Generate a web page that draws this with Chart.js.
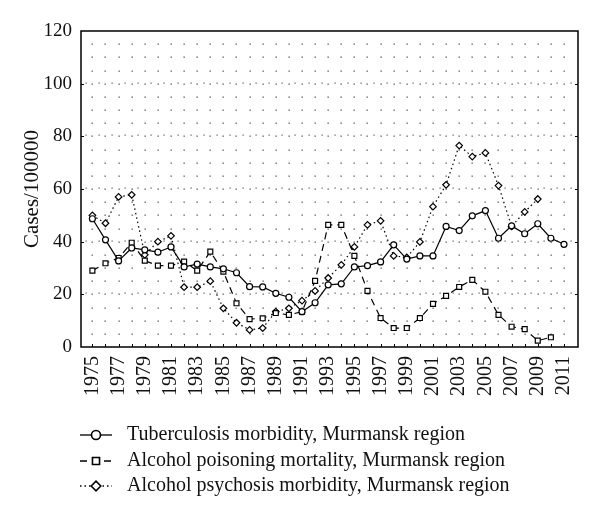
<!DOCTYPE html>
<html>
<head>
<meta charset="utf-8">
<script src="https://cdn.jsdelivr.net/npm/chart.js@4"></script>
<style>
  html, body { margin: 0; padding: 0; background: #fff; }
  #wrap { width: 600px; height: 521px; }
</style>
</head>
<body>
<div id="wrap"><canvas id="chart" width="600" height="521"></canvas></div>
<script>
const years = [1975,1976,1977,1978,1979,1980,1981,1982,1983,1984,1985,1986,1987,1988,1989,1990,1991,1992,1993,1994,1995,1996,1997,1998,1999,2000,2001,2002,2003,2004,2005,2006,2007,2008,2009,2010,2011];
const tuberculosis = [48.7,40.7,32.7,37.6,36.9,36,38,30.4,31.5,30.4,29.7,28.2,22.9,22.8,20.4,18.9,13.4,16.8,23.6,24,30.4,30.9,32.3,38.8,33.4,34.6,34.6,45.8,44.2,49.8,51.8,41.3,46,43,46.8,41.3,39];
const poisoning = [29,31.8,33.8,39.6,32.8,30.9,30.9,32.4,29,36.2,28.6,16.6,10.6,10.9,12.9,12.2,13.4,25.1,46.4,46.4,34.6,21.3,11,7.2,7.2,11,16.4,19.4,22.8,25.5,21,12.2,7.7,6.8,2.4,3.7,null];
const psychosis = [50,47,57,57.8,35,40,42.2,22.7,22.7,25,14.7,9.2,6.5,7.2,13.4,14.7,17.6,21.3,26.2,31.2,38,46.4,47.9,34.6,34,39.9,53.3,61.6,76.5,72.3,73.7,61.3,45.8,51.3,56.2,null,null];
const yTicks = [0,20,40,60,80,100,120];
const seriesNames = [
  'Tuberculosis morbidity, Murmansk region',
  'Alcohol poisoning mortality, Murmansk region',
  'Alcohol psychosis morbidity, Murmansk region'
];

const serif = '"Liberation Serif", "DejaVu Serif", serif';

function toPoints(values) {
  return years.map((y, i) => ({ x: y, y: values[i] }));
}

// dotted grid, box and inner ticks
const frame = {
  id: 'frame',
  beforeDatasetsDraw(chart) {
    const { ctx, chartArea: a, scales: { x, y } } = chart;
    ctx.save();
    ctx.fillStyle = '#555';
    for (let yr = years[0]; yr <= years[years.length - 1]; yr++) {
      const px = Math.round(x.getPixelForValue(yr));
      for (let v = 5; v < 120; v += 5) {
        const py = Math.round(y.getPixelForValue(v));
        ctx.fillRect(px - 0.5, py - 0.5, 1.3, 1.3);
      }
    }
    // extra dots on major rows
    for (let v = 20; v < 120; v += 20) {
      const py = Math.round(y.getPixelForValue(v)) - 1;
      for (let yr = years[0] - 0.5; yr <= years[years.length - 1] + 0.5; yr += 1) {
        const px = Math.round(x.getPixelForValue(yr));
        ctx.fillRect(px - 0.5, py - 0.5, 1.2, 1.2);
      }
    }
    ctx.strokeStyle = '#000';
    ctx.lineWidth = 1;
    ctx.beginPath();
    years.forEach(yr => {
      const px = Math.round(x.getPixelForValue(yr)) + 0.5;
      ctx.moveTo(px, a.bottom);
      ctx.lineTo(px, a.bottom - 3);
    });
    yTicks.slice(1, -1).forEach(v => {
      const py = Math.round(y.getPixelForValue(v)) + 0.5;
      ctx.moveTo(a.left, py);
      ctx.lineTo(a.left + 3, py);
      ctx.moveTo(a.right, py);
      ctx.lineTo(a.right - 3, py);
    });
    ctx.stroke();
    ctx.lineWidth = 1.5;
    ctx.strokeRect(a.left, a.top, a.right - a.left, a.bottom - a.top);
    ctx.restore();
  }
};

// legend: line sample with marker, below the plot
const legendRows = {
  id: 'legendRows',
  afterDraw(chart) {
    const { ctx } = chart;
    const rowsY = [435, 461, 486];
    ctx.save();
    chart.data.datasets.forEach((ds, i) => {
      const yy = rowsY[i];
      ctx.strokeStyle = '#000';
      ctx.lineWidth = 1.3;
      ctx.setLineDash(ds.borderDash || []);
      ctx.beginPath();
      ctx.moveTo(80, yy);
      ctx.lineTo(112, yy);
      ctx.stroke();
      ctx.setLineDash([]);
      ctx.fillStyle = '#fff';
      ctx.strokeStyle = '#000';
      ctx.lineWidth = 1.6;
      Chart.helpers.drawPoint(ctx, {
        pointStyle: ds.pointStyle,
        radius: ds.pointRadius + 1.5,
        rotation: 0,
        borderWidth: 1.6
      }, 96, yy);
      ctx.font = '20px ' + serif;
      ctx.fillStyle = '#111';
      ctx.textBaseline = 'middle';
      ctx.fillText(seriesNames[i], 127, yy);
    });
    ctx.restore();
  }
};

const common = {
  borderColor: '#000',
  borderWidth: 1.2,
  pointBackgroundColor: '#fff',
  pointBorderColor: '#000',
  pointBorderWidth: 1.2,
  fill: false,
  tension: 0,
  spanGaps: false
};

new Chart(document.getElementById('chart'), {
  type: 'line',
  data: {
    datasets: [
      { ...common, label: seriesNames[0], data: toPoints(tuberculosis), pointStyle: 'circle', pointRadius: 3 },
      { ...common, label: seriesNames[1], data: toPoints(poisoning), pointStyle: 'rect', pointRadius: 3.5, borderDash: [7, 5] },
      { ...common, label: seriesNames[2], data: toPoints(psychosis), pointStyle: 'rectRot', pointRadius: 3.3, borderDash: [1.5, 3] }
    ]
  },
  options: {
    responsive: false,
    animation: false,
    layout: { padding: { left: 0, top: 31, right: 22, bottom: 114 } },
    plugins: { legend: { display: false }, tooltip: { enabled: false } },
    scales: {
      x: {
        type: 'linear',
        min: 1974.13,
        max: 2012.07,
        afterFit: s => { s.height = 60; },
        grid: { display: false, drawTicks: false },
        border: { display: false },
        afterBuildTicks: s => { s.ticks = years.map(v => ({ value: v })); },
        ticks: {
          autoSkip: false,
          minRotation: 90,
          maxRotation: 90,
          padding: 9,
          color: '#111',
          font: { family: serif, size: 20 },
          callback: v => (v % 2 === 1 ? String(v) : '')
        }
      },
      y: {
        min: 0,
        max: 120,
        afterFit: s => { s.width = 81; },
        afterBuildTicks: s => { s.ticks = yTicks.map(v => ({ value: v })); },
        grid: { display: false, drawTicks: false },
        border: { display: false },
        ticks: {
          padding: 9,
          color: '#111',
          font: { family: serif, size: 19 }
        },
        title: {
          display: true,
          text: 'Cases/100000',
          color: '#111',
          font: { family: serif, size: 21 },
          padding: { top: 20, bottom: 0 }
        }
      }
    }
  },
  plugins: [frame, legendRows]
});
</script>
</body>
</html>
